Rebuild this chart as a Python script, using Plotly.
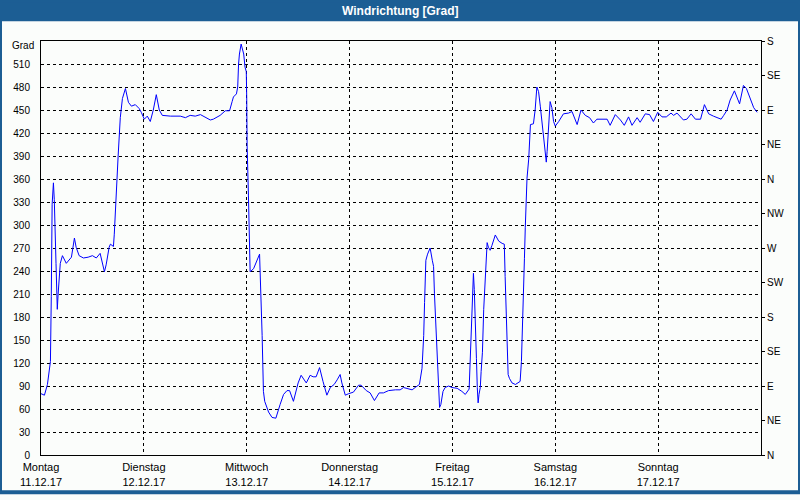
import plotly.graph_objects as go

# time in hours since Monday 11.12.17 00:00, wind direction in degrees
hours = [0.0, 0.8, 1.5, 1.9, 2.2, 2.4, 2.6, 2.9, 3.1, 3.5, 3.8, 4.0, 4.5, 5.0, 5.9, 7.1, 7.8, 8.2, 8.9, 9.9,
         11.0, 12.0, 12.9, 13.8, 14.8, 15.2, 15.9, 16.2, 16.9, 17.1, 17.6, 18.0, 18.5, 19.0, 19.7, 20.4, 21.1,
         22.0, 22.9, 23.4, 24.1, 24.8, 25.5, 26.2, 26.9, 27.6, 28.3, 30.2, 32.5, 33.7, 34.8, 36.0, 37.2, 37.9,
         39.5, 40.2, 41.8, 43.0, 44.0, 44.6, 44.9, 45.6, 45.9, 46.1, 46.3, 46.7, 47.0, 47.3, 47.6, 47.9, 48.0,
         48.1, 48.4, 48.7, 48.8, 49.6, 51.0, 51.6, 51.9, 52.2, 53.1, 53.9, 54.8, 55.8, 56.6, 57.4, 58.0, 58.9,
         60.0, 60.7, 61.9, 62.8, 63.5, 64.2, 65.0, 65.8, 66.7, 67.5, 68.4, 69.1, 69.8, 70.2, 71.0, 71.8, 72.9,
         74.1, 74.7, 75.9, 76.8, 77.8, 78.9, 79.9, 81.1, 82.7, 83.8, 84.6, 85.4, 86.6, 87.3, 88.3, 88.9, 89.3,
         89.5, 89.8, 90.2, 90.8, 91.3, 91.6, 91.8, 92.2, 92.5, 92.8, 93.0, 93.3, 93.8, 94.3, 95.1, 95.9, 97.1,
         98.2, 99.0, 99.9, 100.2, 100.6, 100.8, 100.9, 101.1, 101.4, 101.6, 101.8, 102.0, 102.2, 102.5, 102.7,
         103.0, 103.3, 103.6, 103.9, 104.1, 104.4, 104.8, 105.2, 105.6, 106.0, 106.4, 106.8, 107.6, 108.1,
         108.3, 108.7, 109.0, 109.3, 109.9, 110.7, 111.4, 111.8, 112.1, 112.4, 112.6, 112.8, 113.0, 113.4,
         113.8, 114.0, 114.2, 114.9, 115.3, 115.7, 116.1, 116.5, 117.1, 117.5, 117.7, 117.9, 118.1, 118.4,
         118.7, 118.8, 119.2, 119.6, 120.0, 120.8, 121.9, 123.1, 123.9, 125.1, 126.0, 127.0, 128.0, 128.9,
         129.7, 132.1, 132.8, 134.0, 135.2, 136.1, 137.1, 137.9, 139.1, 139.8, 141.0, 142.0, 142.9, 143.9,
         144.9, 145.9, 147.0, 147.6, 148.4, 149.2, 149.9, 150.7, 151.7, 152.7, 153.9, 154.8, 155.8, 156.9,
         158.7, 159.3, 160.1, 160.8, 161.8, 163.0, 163.9, 164.6, 165.3, 166.3, 167.1]
direction = [80, 78, 92, 107, 122, 207, 327, 355, 333, 250, 190, 210, 250, 260, 250, 258, 283, 271, 260, 257,
             258, 260, 257, 263, 239, 248, 271, 275, 272, 288, 352, 390, 440, 465, 478, 460, 455,
             457, 452, 447, 438, 442, 435, 450, 470, 450, 443, 442, 442, 440, 443, 442, 444, 442,
             437, 438, 443, 449, 449, 461, 467, 471, 480, 510, 523, 536, 529, 523, 506, 500, 467,
             403, 339, 271, 239, 243, 262, 156, 83, 70, 56, 49, 48, 66, 79, 84, 84, 70,
             94, 104, 94, 104, 102, 102, 114, 96, 78, 88, 92, 98, 105, 94, 78, 80, 82,
             91, 91, 84, 81, 71, 81, 81, 84, 85, 85, 88, 87, 85, 88, 92, 113, 156,
             199, 254, 262, 270, 254, 246, 211, 156, 117, 79, 62, 66, 83, 88, 90, 88, 87,
             83, 79, 86, 126, 177, 220, 237, 216, 173, 126, 88, 68, 79, 88, 109,
             134, 190, 220, 254, 277, 271, 267, 273, 282, 287, 283, 279, 276, 275,
             233, 169, 105, 100, 94, 92, 94, 96, 122, 169, 211, 256, 297, 361,
             386, 414, 431, 432, 450, 480, 474, 455, 427, 403, 391, 382, 396, 420,
             442, 461, 453, 435, 429, 435, 445, 446, 448, 431, 450, 443, 440, 433,
             438, 438, 430, 444, 437, 430, 441, 430, 440, 434, 445, 444, 435, 447,
             441, 441, 446, 443, 446, 441, 437, 438, 445, 438, 438, 457, 445, 442,
             438, 443, 450, 463, 475, 458, 482, 478, 468, 453, 447]

day_ticks = [0, 24, 48, 72, 96, 120, 144]
day_labels = ["Montag<br>11.12.17", "Dienstag<br>12.12.17", "Mittwoch<br>13.12.17",
              "Donnerstag<br>14.12.17", "Freitag<br>15.12.17", "Samstag<br>16.12.17",
              "Sonntag<br>17.12.17"]
deg_ticks = list(range(0, 511, 30))
compass_ticks = list(range(0, 541, 45))
compass_labels = ["N", "NE", "E", "SE", "S", "SW", "W", "NW", "N", "NE", "E", "SE", "S"]

FONT = "Liberation Sans, Arial, sans-serif"
BG = "#fbfdfb"
BAR = "#1c5e94"

fig = go.Figure()
fig.add_trace(go.Scatter(x=hours, y=direction, mode="lines",
                         line=dict(color="#0000ff", width=1), hoverinfo="skip"))
fig.add_trace(go.Scatter(x=hours, y=direction, mode="lines", yaxis="y2",
                         line=dict(color="rgba(0,0,0,0)", width=0), hoverinfo="skip"))

L, R, T, B = 41, 39, 41, 38
W, H = 800, 500
pw, ph = W - L - R, H - T - B

def px(x):
    return (x - L) / pw

def py(y):
    return (H - B - y) / ph

fig.update_layout(
    width=W, height=H,
    margin=dict(l=L, r=R, t=T, b=B),
    paper_bgcolor=BG, plot_bgcolor=BG,
    showlegend=False,
    font=dict(family=FONT, size=11, color="#000000"),
    xaxis=dict(range=[0, 168], tickvals=day_ticks, ticktext=day_labels,
               showgrid=True, gridcolor="#000000", gridwidth=1, griddash="3px,3px",
               showline=True, linecolor="#000000", linewidth=1, mirror=True,
               ticks="", zeroline=False, tickfont=dict(size=11), ticklabelstandoff=2),
    yaxis=dict(range=[0, 540], tickvals=deg_ticks,
               showgrid=True, gridcolor="#000000", gridwidth=1, griddash="3px,3px",
               showline=True, linecolor="#000000", linewidth=1, mirror=True,
               ticks="", zeroline=False, tickfont=dict(size=10), ticklabelstandoff=8),
    yaxis2=dict(range=[0, 540], tickvals=compass_ticks, ticktext=compass_labels,
                overlaying="y", side="right", showgrid=False, zeroline=False,
                showline=True, linecolor="#000000", linewidth=1,
                ticks="outside", ticklen=3, tickcolor="#000000", tickfont=dict(size=10)),
    shapes=[
        dict(type="rect", xref="paper", yref="paper", x0=px(0), x1=px(W), y0=py(21), y1=py(0),
             fillcolor=BAR, line=dict(width=0), layer="above"),
        dict(type="rect", xref="paper", yref="paper", x0=px(0), x1=px(W), y0=py(H), y1=py(0),
             fillcolor="rgba(0,0,0,0)", line=dict(color=BAR, width=4), layer="above"),
    ],
    annotations=[
        dict(text="<b>Windrichtung [Grad]</b>", xref="paper", yref="paper", x=px(400), y=py(10.5),
             xanchor="center", yanchor="middle", showarrow=False,
             font=dict(family=FONT, size=12, color="#ffffff")),
        dict(text="Grad", xref="paper", yref="paper", x=px(36), y=py(46),
             xanchor="right", yanchor="middle", showarrow=False,
             font=dict(family=FONT, size=10, color="#000000")),
    ],
)

fig.write_html("out.html", config={"displayModeBar": False},
               post_script="document.body.style.margin='0';document.body.style.overflow='hidden';")
